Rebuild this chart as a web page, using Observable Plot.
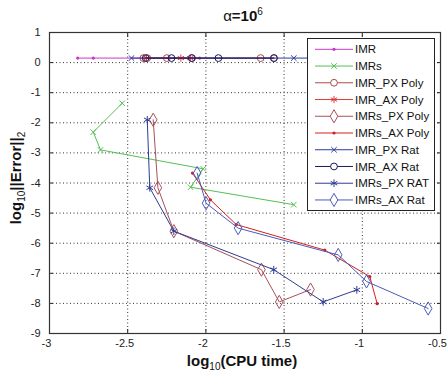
<!DOCTYPE html>
<html><head><meta charset="utf-8">
<script src="https://cdn.jsdelivr.net/npm/d3@7"></script>
<script src="https://cdn.jsdelivr.net/npm/@observablehq/plot@0.6"></script>
<style>body{margin:0;background:#fff;} svg{display:block;}</style>
</head><body><div id="chart"></div>
<script>
// ---- data ----
const xTicks = [-3, -2.5, -2, -1.5, -1, -0.5];
const yTicks = [1, 0, -1, -2, -3, -4, -5, -6, -7, -8, -9];

const seriesNames = ["IMR", "IMRs", "IMR_PX Poly", "IMR_AX Poly", "IMRs_PX Poly", "IMRs_AX Poly",
  "IMR_PX Rat", "IMR_AX Rat", "IMRs_PX RAT", "IMRs_AX Rat"];

const IMR_x = [-2.82, -2.72, -2.04];
const IMR_y = [0.15, 0.15, 0.15];
const IMRs_x = [-2.535, -2.72, -2.674, -2.017, -2.098, -1.438];
const IMRs_y = [-1.35, -2.31, -2.90, -3.53, -4.14, -4.72];
const IMR_PX_Poly_x = [-2.40, -2.375, -2.25, -2.09, -1.65, -1.565];
const IMR_PX_Poly_y = [0.15, 0.15, 0.15, 0.15, 0.15, 0.15];
const IMR_AX_Poly_x = [-2.38, -2.16, -2.10];
const IMR_AX_Poly_y = [0.15, 0.15, 0.15];
const IMRs_PX_Poly_x = [-2.337, -2.307, -2.205, -1.645, -1.531, -1.331];
const IMRs_PX_Poly_y = [-1.90, -4.16, -5.60, -6.88, -7.95, -7.54];
const IMRs_AX_Poly_x = [-2.086, -1.971, -1.806, -1.24, -0.952, -0.905];
const IMRs_AX_Poly_y = [-3.67, -4.56, -5.38, -6.23, -7.11, -8.01];
const IMR_PX_Rat_x = [-2.476, -1.438, -1.25];
const IMR_PX_Rat_y = [0.15, 0.15, 0.15];
const IMR_AX_Rat_x = [-2.385, -2.22, -2.09, -1.92, -1.565];
const IMR_AX_Rat_y = [0.15, 0.15, 0.15, 0.15, 0.15];
const IMRs_PX_RAT_x = [-2.375, -2.359, -2.205, -1.566, -1.25, -1.035];
const IMRs_PX_RAT_y = [-1.90, -4.16, -5.60, -6.88, -7.95, -7.55];
const IMRs_AX_Rat_x = [-2.056, -1.999, -1.794, -1.154, -0.973, -0.579];
const IMRs_AX_Rat_y = [-3.67, -4.67, -5.50, -6.39, -7.27, -8.17];

const seriesX = [IMR_x, IMRs_x, IMR_PX_Poly_x, IMR_AX_Poly_x, IMRs_PX_Poly_x, IMRs_AX_Poly_x,
  IMR_PX_Rat_x, IMR_AX_Rat_x, IMRs_PX_RAT_x, IMRs_AX_Rat_x];
const seriesY = [IMR_y, IMRs_y, IMR_PX_Poly_y, IMR_AX_Poly_y, IMRs_PX_Poly_y, IMRs_AX_Poly_y,
  IMR_PX_Rat_y, IMR_AX_Rat_y, IMRs_PX_RAT_y, IMRs_AX_Rat_y];

// ---- styles ----
const seriesColors = ["#c838c8", "#55c055", "#b04a4a", "#e23c3c", "#a8505a", "#d42020",
  "#2e3a9e", "#1a1a5e", "#2e3c90", "#4c5cb8"];
const seriesSymbols = ["circle", "times", "circle", "asterisk", "diamond", "circle",
  "times", "circle", "asterisk", "diamond"];
const seriesFilled = [true, false, false, false, false, true, false, false, false, false];
const seriesR = [1.6, 2.6, 3.4, 3.4, 4, 1.6, 2.6, 3.4, 3.6, 4];

const FONT = "'Liberation Sans', Arial, Helvetica, sans-serif";

const rows = seriesNames.map((name, i) => seriesX[i].map((x, j) => ({name, x, y: seriesY[i][j]})));

const seriesMarks = [];
rows.forEach((data, i) => {
  seriesMarks.push(Plot.line(data, {x: "x", y: "y", stroke: seriesColors[i], strokeWidth: 1}));
  seriesMarks.push(Plot.dot(data, {
    x: "x", y: "y", symbol: seriesSymbols[i], r: seriesR[i],
    stroke: seriesFilled[i] ? "none" : seriesColors[i],
    fill: seriesFilled[i] ? seriesColors[i] : "none",
    strokeWidth: 1
  }));
});

const plot = Plot.plot({
  width: 448, height: 374,
  marginLeft: 49, marginRight: 8, marginTop: 32, marginBottom: 41,
  style: {fontFamily: FONT, fontSize: "11px", color: "#222", background: "white"},
  x: {domain: [-3, -0.5]},
  y: {domain: [-9, 1]},
  marks: [
    Plot.gridX(xTicks, {stroke: "#000", strokeOpacity: 0.8, strokeDasharray: "1,2.5"}),
    Plot.gridY(yTicks, {stroke: "#000", strokeOpacity: 0.8, strokeDasharray: "1,2.5"}),
    ...seriesMarks,
    Plot.axisX(xTicks, {anchor: "bottom", tickSize: -4, tickPadding: 10, tickFormat: null, text: null, label: null}),
    Plot.textX(xTicks, {x: d => d, text: d => String(d), frameAnchor: "bottom", dy: 13, dx: -3, fontSize: 11, fill: "#222"}),
    Plot.axisX(xTicks, {anchor: "top", tickSize: -4, tickFormat: () => "", label: null}),
    Plot.axisY(yTicks, {anchor: "left", tickSize: -4, tickPadding: 13, tickFormat: d => String(d), label: null}),
    Plot.axisY(yTicks, {anchor: "right", tickSize: -4, tickFormat: () => "", label: null}),
    Plot.frame({stroke: "#333", strokeWidth: 1.2})
  ]
});
document.getElementById("chart").appendChild(plot);

// ---- title and axis labels ----
const svg = d3.select(plot);
const t = svg.append("text").attr("x", 243).attr("y", 21).attr("text-anchor", "middle")
  .style("font-family", FONT).style("font-weight", "bold").style("font-size", "15px").attr("fill", "#111");
t.append("tspan").text("α").style("font-weight", "normal");
t.append("tspan").text("=10");
t.append("tspan").text("6").attr("dy", -6).style("font-size", "10px").style("font-weight", "normal");

const xl = svg.append("text").attr("x", 242).attr("y", 366).attr("text-anchor", "middle")
  .style("font-family", FONT).style("font-weight", "bold").style("font-size", "15px").attr("fill", "#111");
xl.append("tspan").text("log");
xl.append("tspan").text("10").attr("dy", 4).style("font-size", "10px").style("font-weight", "normal");
xl.append("tspan").text("(CPU time)").attr("dy", -4);

const yl = svg.append("text").attr("transform", "translate(21,178) rotate(-90)").attr("text-anchor", "middle")
  .style("font-family", FONT).style("font-weight", "bold").style("font-size", "15px").attr("fill", "#111");
yl.append("tspan").text("log");
yl.append("tspan").text("10").attr("dy", 4).style("font-size", "10px").style("font-weight", "normal");
yl.append("tspan").text("||Error||").attr("dy", -4);
yl.append("tspan").text("2").attr("dy", 4).style("font-size", "10px").style("font-weight", "normal");

// ---- legend ----
const symMap = {circle: d3.symbolCircle, times: d3.symbolTimes, asterisk: d3.symbolAsterisk, diamond: d3.symbolDiamond};
const lg = svg.append("g").attr("text-anchor", "start");
lg.append("rect").attr("x", 307.5).attr("y", 38.5).attr("width", 127).attr("height", 172)
  .attr("fill", "white").attr("stroke", "#222").attr("stroke-width", 1);
seriesNames.forEach((name, i) => {
  const cy = 49.3 + 16.74 * i;
  lg.append("line").attr("x1", 315).attr("x2", 353).attr("y1", cy).attr("y2", cy)
    .attr("stroke", seriesColors[i]).attr("stroke-width", 1);
  const r = seriesR[i];
  lg.append("path").attr("transform", `translate(334,${cy})`)
    .attr("d", d3.symbol(symMap[seriesSymbols[i]], Math.PI * r * r)())
    .attr("fill", seriesFilled[i] ? seriesColors[i] : "white")
    .attr("stroke", seriesFilled[i] ? "none" : seriesColors[i]).attr("stroke-width", 1);
  lg.append("text").attr("x", 355).attr("y", cy).attr("dy", "0.36em").attr("text-anchor", "start").text(name)
    .style("font-family", FONT).style("font-size", "11.5px").attr("fill", "#111");
});
</script></body></html>
